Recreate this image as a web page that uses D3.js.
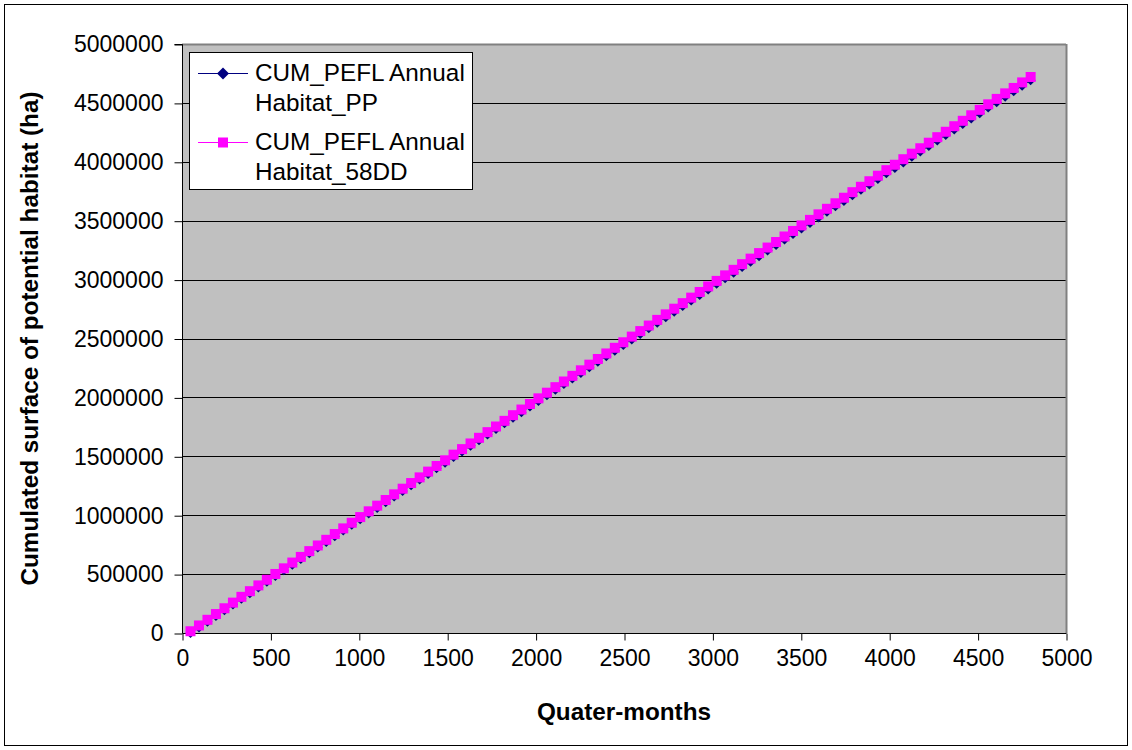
<!DOCTYPE html>
<html><head><meta charset="utf-8">
<script src="https://cdn.jsdelivr.net/npm/d3@7"></script>
<style>body{margin:0;background:#fff}svg{display:block}text{font-family:"Liberation Sans",Arial,sans-serif}</style>
</head><body>
<svg id="c" width="1132" height="750"></svg>
<script>
// Quarter-month positions (one point per year of 48 quarter-months)
const quarterMonths = [
48,96,144,192,240,288,336,384,432,480,
528,576,624,672,720,768,816,864,912,960,
1008,1056,1104,1152,1200,1248,1296,1344,1392,1440,
1488,1536,1584,1632,1680,1728,1776,1824,1872,1920,
1968,2016,2064,2112,2160,2208,2256,2304,2352,2400,
2448,2496,2544,2592,2640,2688,2736,2784,2832,2880,
2928,2976,3024,3072,3120,3168,3216,3264,3312,3360,
3408,3456,3504,3552,3600,3648,3696,3744,3792,3840,
3888,3936,3984,4032,4080,4128,4176,4224,4272,4320,
4368,4416,4464,4512,4560,4608,4656,4704,4752,4800];
// cumulated surface, thousands of ha
const habitatPP = [
0,47,95,144,193,241,290,338,387,435,
484,532,580,629,677,725,773,822,870,918,
966,1014,1062,1110,1158,1206,1254,1302,1350,1398,
1446,1494,1541,1589,1637,1684,1732,1780,1828,1875,
1922,1970,2018,2065,2113,2160,2207,2255,2303,2350,
2397,2444,2492,2539,2586,2634,2681,2728,2775,2822,
2870,2917,2964,3011,3058,3106,3152,3199,3246,3294,
3340,3387,3434,3481,3528,3575,3622,3668,3715,3762,
3808,3855,3902,3948,3995,4042,4088,4134,4181,4228,
4274,4320,4367,4413,4460,4506,4552,4599,4645,4692];
const habitat58DD = [
15,64,112,161,210,258,307,355,404,452,
501,549,598,646,695,743,791,840,888,936,
984,1033,1081,1129,1177,1225,1273,1321,1370,1418,
1466,1514,1561,1609,1657,1705,1753,1801,1849,1897,
1944,1992,2040,2087,2135,2183,2230,2278,2326,2373,
2421,2468,2516,2563,2610,2658,2705,2753,2800,2847,
2895,2942,2989,3036,3083,3131,3178,3225,3272,3319,
3366,3413,3460,3507,3554,3601,3648,3695,3742,3788,
3835,3882,3929,3975,4022,4069,4115,4162,4209,4255,
4302,4348,4395,4441,4488,4534,4581,4627,4674,4720];
const xTicks = [0,500,1000,1500,2000,2500,3000,3500,4000,4500,5000];
const yTicks = [0,500000,1000000,1500000,2000000,2500000,3000000,3500000,4000000,4500000,5000000];
const seriesNames = ["CUM_PEFL Annual Habitat_PP","CUM_PEFL Annual Habitat_58DD"];

const svg = d3.select("#c");
const L=182,R=1066,T=44,B=633;
const x = d3.scaleLinear().domain([0,5000]).range([L,R]);
const y = d3.scaleLinear().domain([0,5000000]).range([B,T]);
const FS = 23;

svg.append("rect").attr("x",4.5).attr("y",4.5).attr("width",1123).attr("height",741)
  .attr("fill","#fff").attr("stroke","#000").attr("stroke-width",1);

svg.append("rect").attr("x",L).attr("y",T).attr("width",R-L).attr("height",B-T).attr("fill","#c0c0c0");
// gridlines
svg.append("g").selectAll("line").data(yTicks.slice(1)).join("line")
  .attr("x1",L).attr("x2",R).attr("y1",d=>Math.round(y(d))+0.5).attr("y2",d=>Math.round(y(d))+0.5)
  .attr("stroke",d=>d===5000000?"#808080":"#000").attr("stroke-width",d=>d===5000000?2:1);
svg.append("line").attr("x1",R+0.5).attr("x2",R+0.5).attr("y1",T).attr("y2",B).attr("stroke","#808080").attr("stroke-width",2);

// axes
const yAxis = d3.axisLeft(y).tickValues(yTicks).tickSize(8).tickPadding(11).tickFormat(d3.format("d"));
const gy = svg.append("g").attr("transform",`translate(${L+0.5},0.5)`).call(yAxis);
const xAxis = d3.axisBottom(x).tickValues(xTicks).tickSize(7).tickPadding(9).tickFormat(d3.format("d"));
const gx = svg.append("g").attr("transform",`translate(0.5,${B+0.5})`).call(xAxis);
[gx,gy].forEach(g=>{
  g.select(".domain").attr("stroke","#000").attr("stroke-width",1);
  g.selectAll(".tick line").attr("stroke","#000");
  g.selectAll("text").attr("font-size",FS).attr("fill","#000").attr("font-family","Liberation Sans, Arial, sans-serif");
});
gy.select(".domain").attr("d",`M-8,${T}H0V${B}`);
gx.select(".domain").attr("d",`M${L},0H${R}`);

// series
const dPP = quarterMonths.map((q,i)=>[q,habitatPP[i]*1000]);
const d58 = quarterMonths.map((q,i)=>[q,habitat58DD[i]*1000]);
const line = d3.line().x(d=>x(d[0])).y(d=>y(d[1]));
svg.append("path").datum(dPP).attr("d",line).attr("fill","none").attr("stroke","#000080").attr("stroke-width",1);
svg.append("g").selectAll("path").data(dPP).join("path")
  .attr("d","M0,-5L5,0L0,5L-5,0Z")
  .attr("transform",d=>`translate(${x(d[0])},${y(d[1])})`).attr("fill","#000080");
svg.append("path").datum(d58).attr("d",line).attr("fill","none").attr("stroke","#ff00ff").attr("stroke-width",1);
svg.append("g").selectAll("rect").data(d58).join("rect")
  .attr("x",d=>x(d[0])-5).attr("y",d=>y(d[1])-5).attr("width",10).attr("height",10).attr("fill","#ff00ff");

// legend
const lg = svg.append("g");
lg.append("rect").attr("x",189.5).attr("y",52.5).attr("width",283).attr("height",137).attr("fill","#fff").attr("stroke","#000");
const rows = [{name:seriesNames[0],c:"#000080",m:"d",ly:73},{name:seriesNames[1],c:"#ff00ff",m:"s",ly:142}];
rows.forEach(r=>{
  lg.append("line").attr("x1",198).attr("x2",248).attr("y1",r.ly+0.5).attr("y2",r.ly+0.5).attr("stroke",r.c).attr("stroke-width",1);
  if(r.m==="d") lg.append("path").attr("d","M0,-6L6,0L0,6L-6,0Z").attr("transform",`translate(223,${r.ly+0.5})`).attr("fill",r.c);
  else lg.append("rect").attr("x",218).attr("y",r.ly-4.5).attr("width",10).attr("height",10).attr("fill",r.c);
  const parts = r.name.split(" ");
  const l1 = parts.slice(0,2).join(" "), l2 = parts.slice(2).join(" ");
  lg.append("text").attr("x",255).attr("y",r.ly+8).attr("font-size",24.3).text(l1);
  lg.append("text").attr("x",255).attr("y",r.ly+38).attr("font-size",24.3).text(l2);
});

// titles
svg.append("text").attr("x",(L+R)/2).attr("y",720).attr("text-anchor","middle")
  .attr("font-size",24.3).attr("font-weight","bold").text("Quater-months");
svg.append("text").attr("transform",`translate(38,${(T+B)/2}) rotate(-90)`).attr("text-anchor","middle")
  .attr("font-size",24.3).attr("font-weight","bold").text("Cumulated surface of potential habitat (ha)");
</script>
</body></html>
